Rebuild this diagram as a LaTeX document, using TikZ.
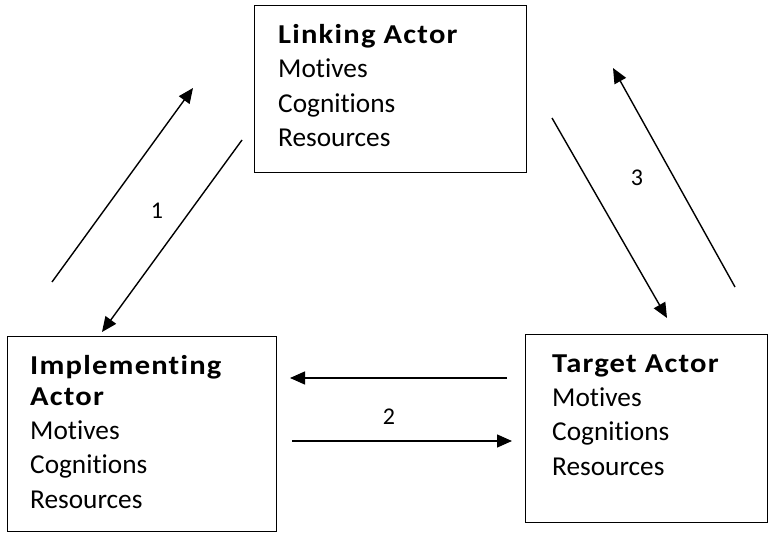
\documentclass[tikz,border=0pt]{standalone}
\usepackage{fontspec}
\setmainfont{Carlito}[Ligatures={NoCommon},
  BoldFeatures={FakeStretch=1.12, LetterSpace=4.5}]
\usetikzlibrary{arrows.meta}
\begin{document}
\begin{tikzpicture}[x=1pt,y=-1pt,
  actorbox/.style={draw, line width=1.4pt, rectangle, inner sep=0pt, anchor=north west},
  % anchored at the baseline of the last line
  actortext/.style={anchor=base west, align=left, inner sep=0pt,
    font=\fontsize{27.3}{34.3}\selectfont},
  flow/.style={line width=1.4pt, -{Triangle[length=15pt,width=13pt]}},
  numlabel/.style={font=\fontsize{24}{28}\selectfont, inner sep=0pt}]
\useasboundingbox (0,0) rectangle (775,534);

% actor boxes
\node[actorbox, minimum width=272pt, minimum height=167pt] (linking) at (254,5) {};
\node[actorbox, minimum width=269pt, minimum height=195pt] (implementing) at (7,336) {};
\node[actorbox, minimum width=242pt, minimum height=188pt] (target) at (525,334) {};

% box contents
\node[actortext] (linkingtext) at (278,146.5)
  {\textbf{Linking Actor}\\Motives\\Cognitions\\Resources};
\node[actortext] (implementingtext) at (30,508)
  {\textbf{Implementing}\\[-3.5pt]\textbf{Actor}\\Motives\\Cognitions\\Resources};
\node[actortext] (targettext) at (552,475)
  {\textbf{Target Actor}\\Motives\\Cognitions\\Resources};

% end points of the exchange arrows
\coordinate (upA) at (52,282);   \coordinate (upB) at (193,88);
\coordinate (downA) at (242,140); \coordinate (downB) at (102,332);
\coordinate (leftA) at (507,378); \coordinate (leftB) at (290,378);
\coordinate (rightA) at (292,441); \coordinate (rightB) at (512,441);
\coordinate (sdA) at (552,118);  \coordinate (sdB) at (667,318);
\coordinate (suA) at (735,287);  \coordinate (suB) at (613,68);

% exchanges
\draw[flow] (upA) -- (upB);
\draw[flow] (downA) -- (downB);
\draw[flow] (leftA) -- (leftB);
\draw[flow] (rightA) -- (rightB);
\draw[flow] (sdA) -- (sdB);
\draw[flow] (suA) -- (suB);

% exchange numbers
\node[numlabel] (n1) at (157,211) {1};
\node[numlabel] (n2) at (389,417) {2};
\node[numlabel] (n3) at (637,178) {3};
\end{tikzpicture}
\end{document}
